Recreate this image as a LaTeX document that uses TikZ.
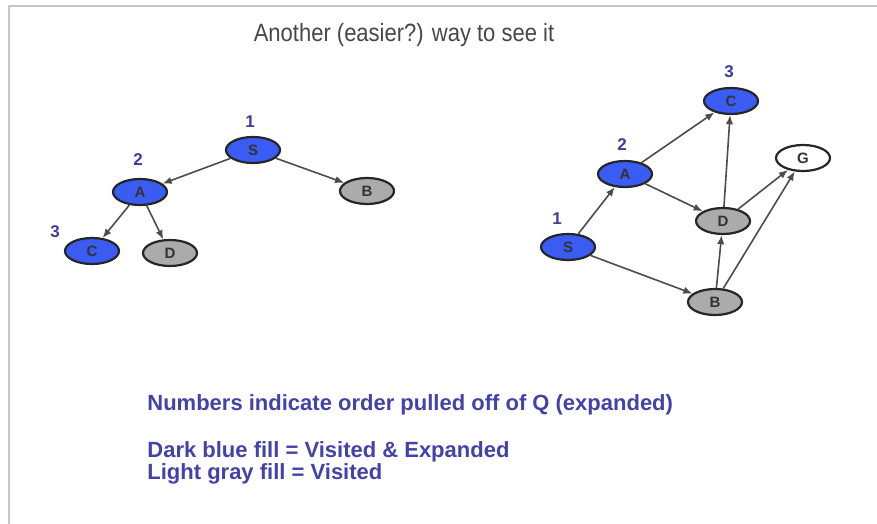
\documentclass[tikz,border=0pt]{standalone}
\usepackage{fontspec}
\setmainfont{Liberation Sans}
\usetikzlibrary{arrows.meta,positioning,shapes.geometric}
\definecolor{vsBlue}{HTML}{3A5CF2}
\definecolor{vsGray}{HTML}{ABABAB}
\definecolor{vsNavy}{HTML}{3C3C9C}
\definecolor{vsText}{HTML}{4242AA}
\definecolor{vsFrame}{HTML}{C6C6C6}

\begin{document}
\begin{tikzpicture}[
  x=0.5pt, y=-0.5pt,
  vtx/.style={ellipse, draw=black!85, line width=1.1pt, minimum width=27pt, minimum height=13pt, inner sep=0pt, font=\fontsize{7.5}{8}\selectfont\bfseries, text=black!80, fill=#1},
  ord/.style={font=\fontsize{8.5}{9}\selectfont\bfseries, text=vsNavy},
  edge/.style={-{Latex[length=1.6mm,width=1.3mm]}, line width=0.8pt, draw=black!70},
  note/.style={font=\fontsize{11}{12}\selectfont\bfseries, text=vsText, anchor=base west, inner sep=0pt}
]
\useasboundingbox (0,0) rectangle (877,524);
% slide frame
\draw[vsFrame, line width=1pt] (9,524) -- (9,6) -- (877,6);
% title
\node[font=\fontsize{12.5}{13}\selectfont, text=black!72, anchor=base] (title) at (404,42) {\scalebox{0.88}[1]{Another (easier?) way to see it}};

% search tree
\node[vtx=vsBlue] (tS) at (253,150) {S};
\node[vtx=vsBlue] (tA) at (140,192) {A};
\node[vtx=vsGray] (tB) at (367,191) {B};
\node[vtx=vsBlue] (tC) at (92,251) {C};
\node[vtx=vsGray] (tD) at (170,253) {D};
\node[ord] (t1) at (250,122) {1};
\node[ord] (t2) at (138,160) {2};
\node[ord] (t3) at (55,232) {3};
\draw[edge] (tS) -- (tA);
\draw[edge] (tS) -- (tB);
\draw[edge] (tA) -- (tC);
\draw[edge] (tA) -- (tD);

% graph
\node[vtx=vsBlue] (gS) at (568,247) {S};
\node[vtx=vsBlue] (gA) at (625,174) {A};
\node[vtx=vsBlue] (gC) at (731,101) {C};
\node[vtx=vsGray] (gD) at (723,221) {D};
\node[vtx=vsGray] (gB) at (715,302) {B};
\node[vtx=white] (gG) at (803,158) {G};
\node[ord] (g1) at (557,219) {1};
\node[ord] (g2) at (622,145) {2};
\node[ord] (g3) at (729,72) {3};
\draw[edge] (gS) -- (gA);
\draw[edge] (gS) -- (gB);
\draw[edge] (gA) -- (gC);
\draw[edge] (gA) -- (gD);
\draw[edge] (gD) -- (gC);
\draw[edge] (gD) -- (gG);
\draw[edge] (gB) -- (gD);
\draw[edge] (gB) -- (gG);

% legend
\node[note] (n1) at (147,410) {Numbers indicate order pulled off of Q (expanded)};
\node[note] (n2) at (147,457) {Dark blue fill = Visited \& Expanded};
\node[note] (n3) at (147,479) {Light gray fill = Visited};
\end{tikzpicture}
\end{document}
